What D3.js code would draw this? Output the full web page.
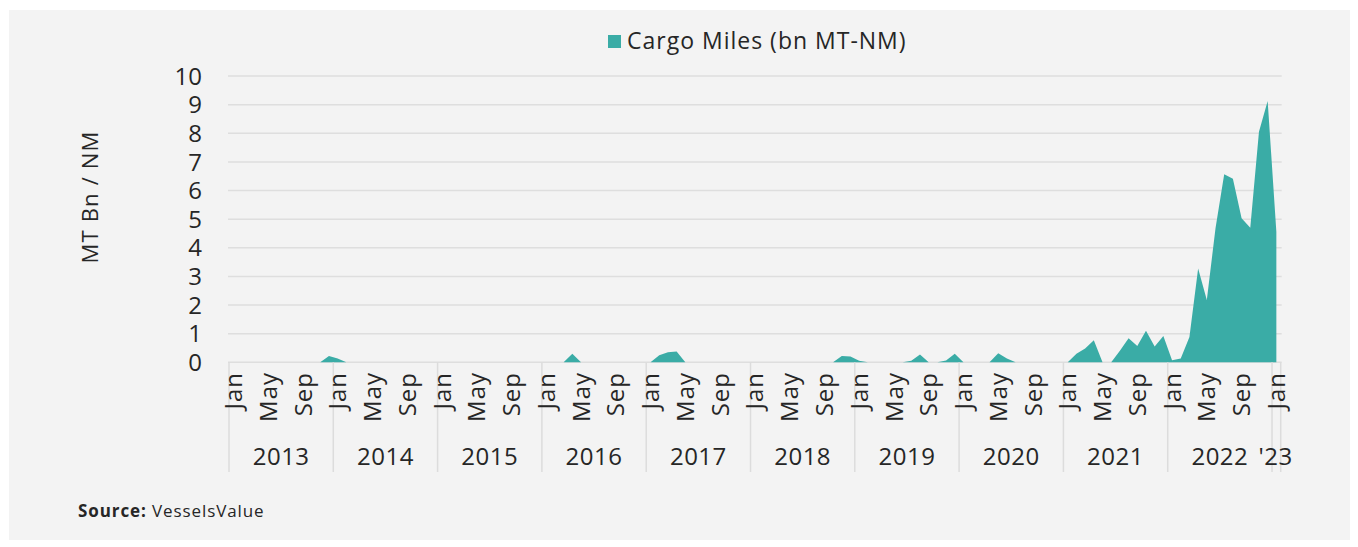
<!DOCTYPE html>
<html lang="en">
<head>
<meta charset="UTF-8">
<title>Cargo Miles (bn MT-NM)</title>
<script src="https://d3js.org/d3.v7.min.js"></script>
<style>
  body { margin: 0; background: #fff; }
  svg text { font-family: "Open Sans", sans-serif; fill: #262626; }
  .grid line { stroke: #dedede; stroke-width: 1.5; }
  .sep { stroke: #dcdcdc; stroke-width: 1.5; }
</style>
</head>
<body>
<svg width="1358" height="547"></svg>
<script>
// categories
const years = ["2013", "2014", "2015", "2016", "2017", "2018", "2019", "2020", "2021", "2022", "'23"];
const monthNames = ["Jan", "Feb", "Mar", "Apr", "May", "Jun", "Jul", "Aug", "Sep", "Oct", "Nov", "Dec"];
const shownMonths = ["Jan", "May", "Sep"];
const yTicks = [0, 1, 2, 3, 4, 5, 6, 7, 8, 9, 10];

// cargo miles, bn MT-NM, Jan 2013 .. Jan 2023 (one row per year)
const cargoMiles = [
  0, 0, 0, 0, 0, 0, 0, 0, 0, 0, 0, 0.22,            // 2013
  0.13, 0, 0, 0, 0, 0, 0, 0, 0, 0, 0, 0,            // 2014
  0, 0, 0, 0, 0, 0, 0, 0, 0, 0, 0, 0,               // 2015
  0, 0, 0, 0.3, 0, 0, 0, 0, 0, 0, 0, 0,             // 2016
  0, 0.25, 0.35, 0.38, 0, 0, 0, 0, 0, 0, 0, 0,      // 2017
  0, 0, 0, 0, 0, 0, 0, 0, 0, 0, 0.22, 0.2,          // 2018
  0.05, 0, 0, 0, 0, 0, 0.05, 0.27, 0, 0, 0.06, 0.3, // 2019
  0, 0, 0, 0, 0.32, 0.13, 0, 0, 0, 0, 0, 0,         // 2020
  0, 0.3, 0.48, 0.77, 0, 0, 0.4, 0.84, 0.57, 1.1, 0.55, 0.92, // 2021
  0.07, 0.13, 0.88, 3.28, 2.18, 4.68, 6.57, 6.41, 5.03, 4.7, 8.05, 9.13, // 2022
  4.56                                              // 2023
];

const categories = [];
years.forEach((yr, yi) => {
  const n = yi < years.length - 1 ? 12 : 1;
  for (let m = 0; m < n; m++) categories.push({year: yr, month: monthNames[m], key: yr + "-" + m});
});
const data = categories.map((c, i) => ({...c, value: cargoMiles[i]}));

const svg = d3.select("svg");

svg.append("rect")
  .attr("x", 9).attr("y", 10)
  .attr("width", 1341).attr("height", 530)
  .attr("fill", "#f3f3f3");

const x = d3.scaleBand()
  .domain(categories.map(d => d.key))
  .range([229, 1280.7])
  .padding(0);

const y = d3.scaleLinear()
  .domain([0, 10])
  .range([362.3, 76]);

const cx = d => x(d.key) + x.bandwidth() / 2;

// gridlines
svg.append("g").attr("class", "grid")
  .selectAll("line")
  .data(yTicks)
  .join("line")
  .attr("x1", x.range()[0] - 1).attr("x2", x.range()[1] + 1)
  .attr("y1", d => y(d)).attr("y2", d => y(d));

// area
const area = d3.area()
  .x(d => cx(d))
  .y0(y(0))
  .y1(d => y(d.value));

svg.append("path")
  .datum(data)
  .attr("d", area)
  .attr("fill", "#3aaca6");

// y tick labels
svg.append("g")
  .selectAll("text")
  .data(yTicks)
  .join("text")
  .attr("x", 202)
  .attr("y", d => y(d))
  .attr("dy", "0.36em")
  .attr("text-anchor", "end")
  .style("font-size", "24px")
  .text(d => d);

svg.append("text")
  .attr("transform", "translate(90,197) rotate(-90)")
  .attr("dy", "0.35em")
  .attr("text-anchor", "middle")
  .style("font-size", "22px")
  .style("letter-spacing", "1.2px")
  .text("MT Bn / NM");

// year separators
const yearStarts = categories.filter(d => d.month === "Jan").map(d => x(d.key));
yearStarts.push(x.range()[1]);
svg.append("g")
  .selectAll("line")
  .data(yearStarts)
  .join("line")
  .attr("class", "sep")
  .attr("x1", d => d).attr("x2", d => d)
  .attr("y1", y(0)).attr("y2", 472);

// month labels
svg.append("g")
  .selectAll("text")
  .data(data.filter(d => shownMonths.includes(d.month)))
  .join("text")
  .attr("transform", d => `translate(${cx(d)},372) rotate(-90)`)
  .attr("dy", "0.36em")
  .attr("text-anchor", "end")
  .style("font-size", "24px")
  .style("letter-spacing", "1px")
  .text(d => d.month);

// year labels
svg.append("g")
  .selectAll("text")
  .data(years)
  .join("text")
  .attr("x", (d, i) => i < years.length - 1
    ? (yearStarts[i] + yearStarts[i + 1]) / 2
    : x.range()[1] + 12)
  .attr("y", 465)
  .attr("text-anchor", (d, i) => i < years.length - 1 ? "middle" : "end")
  .style("font-size", "24px")
  .style("letter-spacing", "0.5px")
  .text(d => d);

// legend
svg.append("rect")
  .attr("x", 608).attr("y", 35)
  .attr("width", 13).attr("height", 13)
  .attr("fill", "#3aaca6");
svg.append("text")
  .attr("x", 627).attr("y", 49)
  .style("font-size", "23px")
  .style("letter-spacing", "1px")
  .text("Cargo Miles (bn MT-NM)");

// source
const src = svg.append("text")
  .attr("x", 78).attr("y", 517)
  .style("font-size", "17px")
  .style("letter-spacing", "0.9px");
src.append("tspan").style("font-weight", "bold").text("Source:");
src.append("tspan").text(" VesselsValue");
</script>
</body>
</html>
